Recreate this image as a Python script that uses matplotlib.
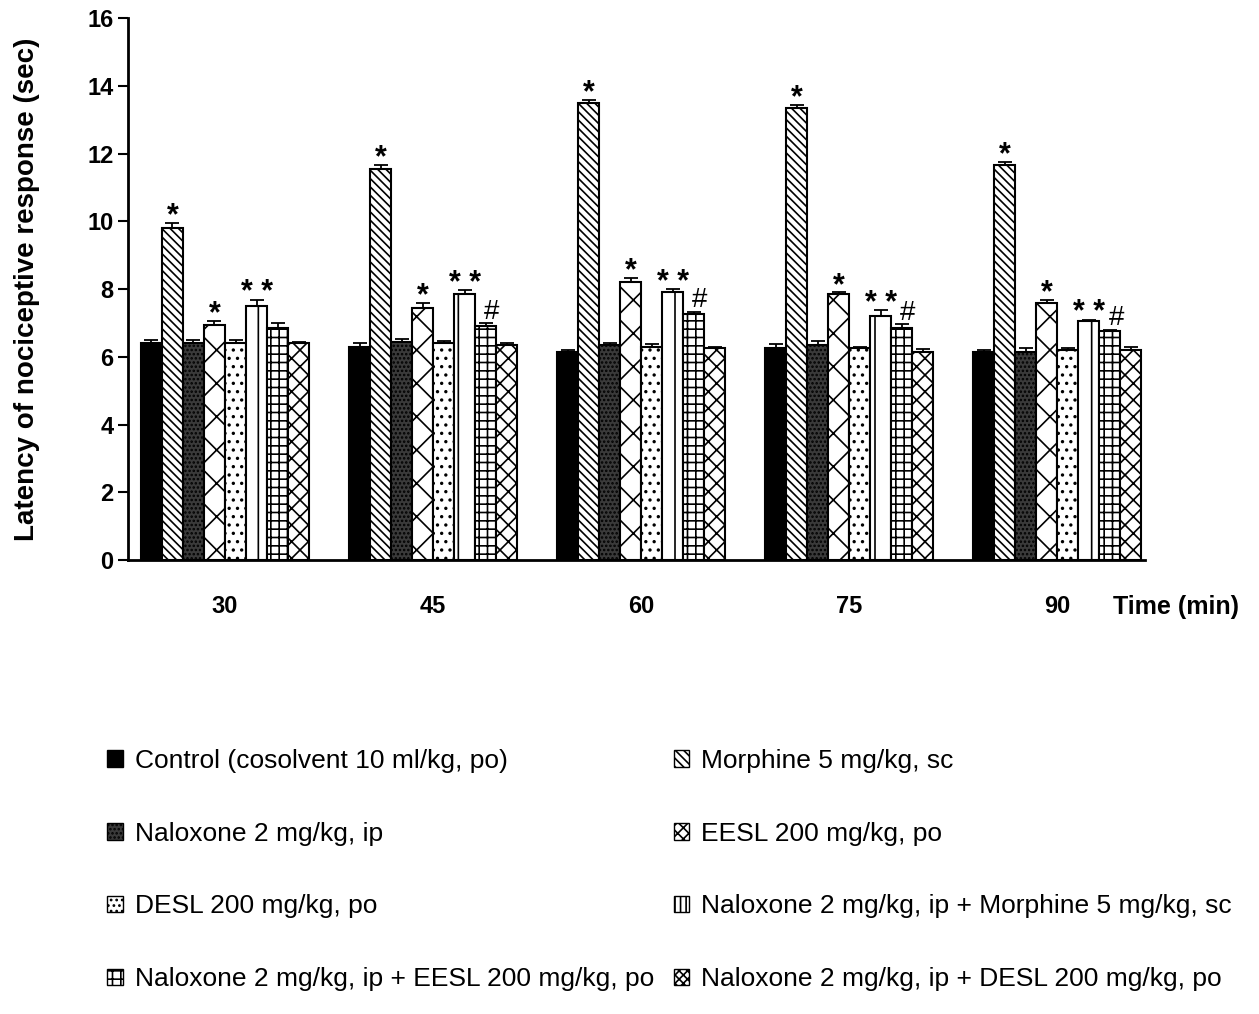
import matplotlib
matplotlib.use("Agg")
import matplotlib.pyplot as plt
import matplotlib.patches as mpatches
import numpy as np

plt.rcParams['font.family'] = ['Liberation Sans', 'DejaVu Sans']
plt.rcParams['hatch.linewidth'] = 1.2

times = ["30", "45", "60", "75", "90"]
groups = ["Control (cosolvent 10 ml/kg, po)", "Morphine 5 mg/kg, sc",
          "Naloxone 2 mg/kg, ip", "EESL 200 mg/kg, po",
          "DESL 200 mg/kg, po", "Naloxone 2 mg/kg, ip + Morphine 5 mg/kg, sc",
          "Naloxone 2 mg/kg, ip + EESL 200 mg/kg, po",
          "Naloxone 2 mg/kg, ip + DESL 200 mg/kg, po"]

control   = [6.40, 6.30, 6.15, 6.25, 6.15]
morphine  = [9.80, 11.55, 13.50, 13.35, 11.65]
naloxone  = [6.40, 6.45, 6.35, 6.35, 6.15]
eesl      = [6.95, 7.45, 8.20, 7.85, 7.60]
desl      = [6.40, 6.40, 6.30, 6.25, 6.20]
nal_morph = [7.50, 7.85, 7.90, 7.20, 7.05]
nal_eesl  = [6.85, 6.90, 7.25, 6.85, 6.75]
nal_desl  = [6.40, 6.35, 6.25, 6.15, 6.20]

err_control   = [0.10, 0.12, 0.05, 0.12, 0.05]
err_morphine  = [0.15, 0.12, 0.08, 0.08, 0.10]
err_naloxone  = [0.10, 0.08, 0.05, 0.12, 0.10]
err_eesl      = [0.12, 0.15, 0.12, 0.05, 0.08]
err_desl      = [0.10, 0.08, 0.08, 0.05, 0.05]
err_nal_morph = [0.18, 0.12, 0.10, 0.18, 0.05]
err_nal_eesl  = [0.15, 0.10, 0.08, 0.12, 0.05]
err_nal_desl  = [0.05, 0.05, 0.05, 0.08, 0.08]

marks_morph = ["*", "*", "*", "*", "*"]
marks_eesl = ["*", "*", "*", "*", "*"]
marks_nm = ["* *", "* *", "* *", "* *", "* *"]
marks_ne = ["", "#", "#", "#", "#"]

series = [control, morphine, naloxone, eesl, desl, nal_morph, nal_eesl, nal_desl]
errs = [err_control, err_morphine, err_naloxone, err_eesl, err_desl,
        err_nal_morph, err_nal_eesl, err_nal_desl]
styles = [
    dict(facecolor="black", hatch=None),
    dict(facecolor="white", hatch="\\\\\\\\"),
    dict(facecolor="#3a3a3a", hatch="...."),
    dict(facecolor="white", hatch="x"),
    dict(facecolor="white", hatch=".."),
    dict(facecolor="white", hatch="|"),
    dict(facecolor="white", hatch="++"),
    dict(facecolor="white", hatch="xx"),
]
legend_hatches = [None, "\\\\\\\\", "....", "xxx", "...", "|||", "++", "xxxx"]

fig = plt.figure(figsize=(12.59, 10.14), dpi=100)
ax = fig.add_axes([0.1017, 0.4477, 0.8075, 0.5345])

x = np.arange(len(times))
w = 0.101
n = len(series)
for i, (vals, e, st) in enumerate(zip(series, errs, styles)):
    pos = x + (i - (n - 1) / 2) * w
    ax.bar(pos, vals, width=w, edgecolor="black", linewidth=1.5, **st)
    ax.errorbar(pos, vals, yerr=[np.zeros(len(e)), e], fmt="none",
                ecolor="black", elinewidth=1.3, capsize=5, capthick=1.3)

def annotate(idx, marks, dy=0.0, dx=0.0, size=22, weight="bold"):
    vals = series[idx]
    e = errs[idx]
    pos = x + (idx - (n - 1) / 2) * w
    for p, v, ee, m in zip(pos, vals, e, marks):
        if m:
            ax.text(p + dx, v + ee + dy, m, ha="center", va="bottom",
                    fontsize=size, fontweight=weight, linespacing=0.8)

annotate(1, marks_morph, dy=-0.25)
annotate(3, marks_eesl, dy=-0.25)
annotate(5, marks_nm, dy=-0.25)
annotate(6, marks_ne, dy=-0.05, dx=0.03, size=20, weight="normal")

ax.set_ylim(0, 16)
ax.set_xlim(-0.466, 4.42)
ax.set_yticks(range(0, 17, 2))
ax.set_xticks(x)
ax.set_xticklabels(times)
ax.tick_params(axis="x", length=0, pad=25, labelsize=17)
ax.tick_params(axis="y", length=7, width=1.5, labelsize=17)
for lab in ax.get_xticklabels() + ax.get_yticklabels():
    lab.set_fontweight("bold")
for s in ["top", "right"]:
    ax.spines[s].set_visible(False)
ax.spines["left"].set_linewidth(2)
ax.spines["bottom"].set_linewidth(2)
ax.set_ylabel("Latency of nociceptive response (sec)", fontsize=20,
              fontweight="bold")
ax.yaxis.set_label_coords(-0.087, 0.5)
fig.text(0.884, 0.401, "Time (min)", fontsize=18, fontweight="bold",
         ha="left", va="center")

handles = [mpatches.Patch(edgecolor="black", linewidth=1.0,
                          facecolor=st["facecolor"], hatch=lh)
           for st, lh in zip(styles, legend_hatches)]
order = [0, 2, 4, 6, 1, 3, 5, 7]
fig.legend([handles[i] for i in order], [groups[i] for i in order],
           loc="upper left", bbox_to_anchor=(0.066, 0.285), ncol=2,
           frameon=False, fontsize=19, handlelength=0.6, handleheight=0.6,
           handletextpad=0.45, labelspacing=1.85, columnspacing=0.75)

fig.savefig("out.png", dpi=100)
